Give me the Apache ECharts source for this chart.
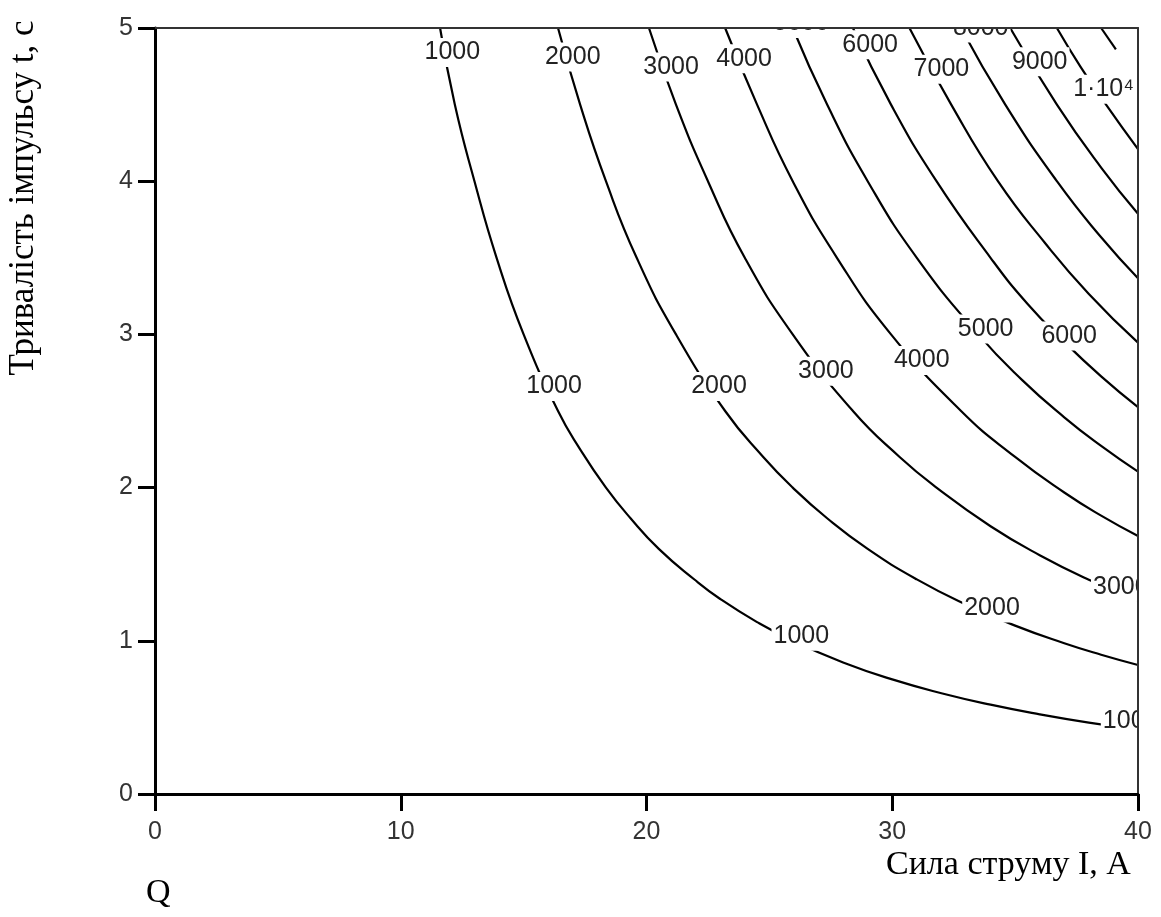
<!DOCTYPE html>
<html>
<head>
<meta charset="utf-8">
<script src="https://cdn.jsdelivr.net/npm/echarts@6/dist/echarts.min.js"></script>
<style>
html,body{margin:0;padding:0;background:#fff;}
#chart{width:1161px;height:917px;}
</style>
</head>
<body>
<div id="chart"></div>
<script>
// Axis ticks
const xTicks = [0, 10, 20, 30, 40];
const yTicks = [0, 1, 2, 3, 4, 5];

// Contour levels (Q) and the points [I, t]
const levels = [1000, 2000, 3000, 4000, 5000, 6000, 7000, 8000, 9000, 10000, 11000];
const c1000 = [[11.6,5],[12.2,4.5],[13.0,4],[13.9,3.5],[15.0,3],[16.4,2.5],[17.3,2.25],[18.35,2.0],[19.35,1.8],[20.5,1.6],[21.95,1.4],[23.0,1.273],[24.5,1.122],[26.0,0.996],[28.0,0.859],[30.0,0.748],[32.0,0.658],[34.0,0.583],[36.0,0.52],[38.0,0.466],[40,0.421]];
const c2000 = [[16.4,5],[17.3,4.5],[18.35,4],[19.6,3.5],[21.2,3],[23.2,2.5],[24.75,2.2],[25.95,2.0],[27.35,1.8],[29.0,1.6],[31.0,1.401],[33.0,1.237],[35.0,1.099],[37.0,0.984],[38.5,0.909],[40,0.842]];
const c3000 = [[20.1,5],[21.2,4.5],[22.5,4],[24.0,3.5],[25.95,3],[28.4,2.5],[30.3,2.2],[31.8,2.0],[34.0,1.748],[36.0,1.559],[38.0,1.399],[40,1.263]];
const c4000 = [[23.2,5],[24.5,4.5],[25.95,4],[27.75,3.5],[29.95,3],[32.8,2.5],[35.0,2.2],[37.0,1.968],[38.5,1.817],[40,1.684]];
const c5000 = [[25.95,5],[27.35,4.5],[29.0,4],[31.0,3.5],[33.5,3],[35.3,2.7],[37.0,2.459],[38.5,2.272],[40,2.104]];
const c6000 = [[28.4,5],[29.95,4.5],[31.8,4],[34.0,3.5],[35.5,3.2],[37.0,2.951],[38.5,2.726],[40,2.525]];
const c7000 = [[30.7,5],[32.4,4.5],[34.3,4],[36.2,3.6],[38.0,3.264],[40,2.946]];
const c8000 = [[32.8,5],[34.6,4.5],[36.7,4],[38.5,3.634],[40,3.367]];
const c9000 = [[34.8,5],[36.7,4.5],[38.5,4.089],[40,3.788]];
const c10000 = [[36.7,5],[37.65,4.75],[38.7,4.5],[40,4.209]];
const c11000 = [[38.5,5],[39.1,4.86]];
const contours = [c1000, c2000, c3000, c4000, c5000, c6000, c7000, c8000, c9000, c10000, c11000];

// Inline contour labels: text and its place [I, t]
const labelTexts = ['1000','2000','3000','4000','5000','6000','7000','8000','9000','1·10⁴',
                    '1000','2000','3000','4000','5000','6000',
                    '1000','2000','3000','1000'];
const labelI = [12.1, 17.0, 21.0, 23.97, 26.3, 29.1, 32.0, 33.6, 36.0, 38.6,
                16.24, 22.95, 27.3, 31.2, 33.8, 37.2,
                26.3, 34.06, 39.3, 39.7];
const labelT = [4.84, 4.81, 4.745, 4.80, 5.03, 4.89, 4.73, 5.0, 4.78, 4.60,
                2.66, 2.66, 2.76, 2.83, 3.035, 2.99,
                1.03, 1.214, 1.35, 0.476];

const xTitle = 'Сила струму I, А';
const yTitle = 'Тривалість імпульсу t, с';
const zTitle = 'Q';

const chart = echarts.init(document.getElementById('chart'), null, {renderer: 'canvas'});
const tickFont = 'Liberation Sans';

const lineSeries = contours.map((pts, i) => ({
  name: String(levels[i]),
  type: 'line',
  data: pts,
  smooth: 0.5,
  symbol: 'none',
  clip: true,
  lineStyle: {color: '#000', width: 2.2},
  z: 2,
  animation: false
}));

const labelSeries = {
  type: 'custom',
  clip: true,
  z: 5,
  animation: false,
  data: labelI.map((v, i) => [v, labelT[i]]),
  encode: {x: 0, y: 1},
  renderItem: function (params, api) {
    const p = api.coord([api.value(0), api.value(1)]);
    return {
      type: 'text',
      x: p[0],
      y: p[1],
      style: {
        text: labelTexts[params.dataIndex],
        fill: '#222',
        fontSize: 25,
        fontFamily: tickFont,
        align: 'center',
        verticalAlign: 'middle',
        backgroundColor: '#fff',
        padding: [2, 2, 2, 2]
      }
    };
  }
};

const option = {
  backgroundColor: '#fff',
  animation: false,
  grid: {left: 155, top: 28, width: 983, height: 766, containLabel: false},
  xAxis: [{
    type: 'value', min: xTicks[0], max: xTicks[xTicks.length - 1], interval: 10,
    position: 'bottom', z: 10,
    axisLine: {show: true, onZero: false, lineStyle: {color: '#000', width: 3}},
    axisTick: {show: true, inside: false, length: 17, lineStyle: {color: '#000', width: 3}},
    axisLabel: {show: true, margin: 26, fontSize: 25, fontFamily: tickFont, color: '#333'},
    splitLine: {show: false}
  }, {
    type: 'value', min: xTicks[0], max: xTicks[xTicks.length - 1], interval: 10,
    position: 'top', z: 10,
    axisLine: {show: true, onZero: false, lineStyle: {color: '#333', width: 2}},
    axisTick: {show: false}, axisLabel: {show: false}, splitLine: {show: false}
  }],
  yAxis: [{
    type: 'value', min: yTicks[0], max: yTicks[yTicks.length - 1], interval: 1,
    position: 'left', z: 10,
    axisLine: {show: true, onZero: false, lineStyle: {color: '#000', width: 3}},
    axisTick: {show: true, inside: false, length: 17, lineStyle: {color: '#000', width: 3}},
    axisLabel: {show: true, margin: 22, fontSize: 25, fontFamily: tickFont, color: '#333'},
    splitLine: {show: false}
  }, {
    type: 'value', min: yTicks[0], max: yTicks[yTicks.length - 1], interval: 1,
    position: 'right', z: 10,
    axisLine: {show: true, onZero: false, lineStyle: {color: '#333', width: 2}},
    axisTick: {show: false}, axisLabel: {show: false}, splitLine: {show: false}
  }],
  series: lineSeries.concat([labelSeries]),
  graphic: [
    {type: 'text', left: 886, top: 848, style: {text: xTitle, font: '34px "Liberation Serif"', fill: '#000'}},
    {type: 'text', left: 146, top: 876, style: {text: zTitle, font: '34px "Liberation Serif"', fill: '#000'}},
    {type: 'text', x: 24, y: 198, rotation: Math.PI / 2,
     style: {text: yTitle, font: '35px "Liberation Serif"', fill: '#000', align: 'center', verticalAlign: 'middle'}}
  ]
};
chart.setOption(option);
</script>
</body>
</html>
